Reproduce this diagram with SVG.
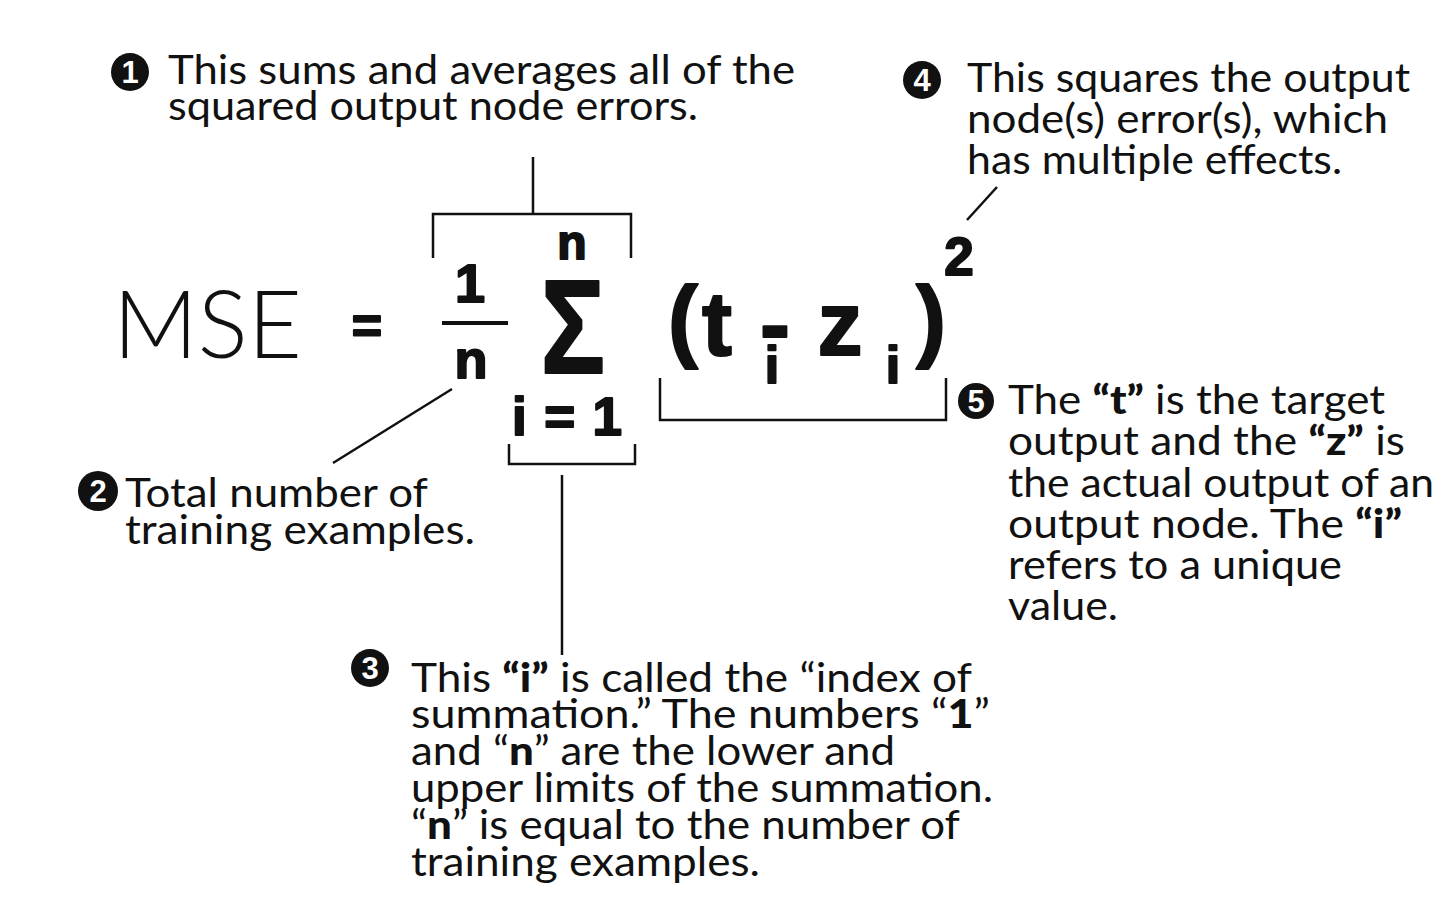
<svg xmlns="http://www.w3.org/2000/svg" width="1440" height="910" viewBox="0 0 1440 910">
<style>
.bg{fill:#ffffff}
.t{font-family:Lato,"Noto Sans",sans-serif;font-size:40px;font-weight:400;fill:#111}
.b{font-weight:900}
.f{font-family:"Liberation Sans",Arial,sans-serif;font-weight:700;fill:#111;stroke:#111;stroke-width:2;stroke-linejoin:round}
.mse{font-family:Lato,"Noto Sans",sans-serif;font-size:94px;font-weight:300;fill:#111}
.num{font-family:"Liberation Sans",Arial,sans-serif;font-weight:700;font-size:31px;fill:#fff;text-anchor:middle}
.dot{fill:#111}
.ln{stroke:#111;stroke-width:2.5;fill:none}
</style>
<rect class="bg" x="0" y="0" width="1440" height="910"/>

<g id="formula">
<text class="mse" x="113" y="358" textLength="189" lengthAdjust="spacingAndGlyphs">MSE</text>
<text class="f" x="367" y="343" font-size="52" text-anchor="middle" font-weight="400" stroke-width="0">=</text>
<text class="f" x="470" y="302" font-size="54" text-anchor="middle">1</text>
<rect x="442" y="321" width="66" height="4" fill="#111"/>
<text class="f" x="471" y="378" font-size="54" text-anchor="middle">n</text>
<text class="f" x="572" y="259" font-size="48" text-anchor="middle">n</text>
<text class="f" transform="translate(573,373) scale(0.8,1)" font-size="134" text-anchor="middle" stroke-width="3">Σ</text>
<text class="f" x="512" y="435" font-size="53" textLength="110">i = 1</text>
<text class="f" x="683" y="350" font-size="90" text-anchor="middle" stroke-width="3">(</text>
<text class="f" x="717" y="355" font-size="90" text-anchor="middle" stroke-width="3">t</text>
<text class="f" x="772" y="383" font-size="52" text-anchor="middle">i</text>
<text class="f" x="775" y="355" font-size="90" text-anchor="middle">-</text>
<text class="f" x="840" y="355" font-size="90" text-anchor="middle" stroke-width="3">z</text>
<text class="f" x="893" y="383" font-size="52" text-anchor="middle">i</text>
<text class="f" x="931" y="350" font-size="90" text-anchor="middle" stroke-width="3">)</text>
<text class="f" x="959" y="275" font-size="53" text-anchor="middle">2</text>
</g>

<g id="connectors">
<path class="ln" d="M533 157 V214 M433 258 V214 H631 V258"/>
<path class="ln" d="M509 444 V464 H635 V444 M562 475 V655"/>
<path class="ln" d="M333 463 L452 389"/>
<path class="ln" d="M660 378 V420 H946 V378"/>
<path class="ln" d="M967 220 L997 187"/>
</g>

<g id="note1">
<circle class="dot" cx="130" cy="72" r="19"/>
<text class="num" x="130" y="83">1</text>
<text class="t" x="168" y="84" textLength="627" lengthAdjust="spacingAndGlyphs">This sums and averages all of the</text>
<text class="t" x="168" y="120" textLength="530" lengthAdjust="spacingAndGlyphs">squared output node errors.</text>
</g>

<g id="note2">
<circle class="dot" cx="98" cy="491" r="20"/>
<text class="num" x="98" y="502">2</text>
<text class="t" x="125" y="507" textLength="303" lengthAdjust="spacingAndGlyphs">Total number of</text>
<text class="t" x="125" y="544" textLength="350" lengthAdjust="spacingAndGlyphs">training examples.</text>
</g>

<g id="note3">
<circle class="dot" cx="370" cy="668" r="19"/>
<text class="num" x="370" y="679">3</text>
<text class="t" x="411" y="692" textLength="561" lengthAdjust="spacingAndGlyphs">This <tspan class="b">“i”</tspan> is called the “index of</text>
<text class="t" x="411" y="728" textLength="579" lengthAdjust="spacingAndGlyphs">summation.”  The numbers “<tspan class="b">1</tspan>”</text>
<text class="t" x="411" y="765" textLength="484" lengthAdjust="spacingAndGlyphs">and “<tspan class="b">n</tspan>” are the lower and</text>
<text class="t" x="411" y="802" textLength="582" lengthAdjust="spacingAndGlyphs">upper limits of the summation.</text>
<text class="t" x="411" y="839" textLength="549" lengthAdjust="spacingAndGlyphs">“<tspan class="b">n</tspan>” is equal to the number of</text>
<text class="t" x="411" y="876" textLength="349" lengthAdjust="spacingAndGlyphs">training examples.</text>
</g>

<g id="note4">
<circle class="dot" cx="922" cy="80" r="19"/>
<text class="num" x="922" y="91">4</text>
<text class="t" x="967" y="92" textLength="443" lengthAdjust="spacingAndGlyphs">This squares the output</text>
<text class="t" x="967" y="133" textLength="421" lengthAdjust="spacingAndGlyphs">node(s) error(s), which</text>
<text class="t" x="967" y="174" textLength="375" lengthAdjust="spacingAndGlyphs">has multiple effects.</text>
</g>

<g id="note5">
<circle class="dot" cx="976" cy="401" r="18"/>
<text class="num" x="976" y="412">5</text>
<text class="t" x="1008" y="414" textLength="377" lengthAdjust="spacingAndGlyphs">The <tspan class="b">“t”</tspan> is the target</text>
<text class="t" x="1008" y="455" textLength="397" lengthAdjust="spacingAndGlyphs">output and the <tspan class="b">“z”</tspan> is</text>
<text class="t" x="1008" y="497" textLength="426" lengthAdjust="spacingAndGlyphs">the actual output of an</text>
<text class="t" x="1008" y="538" textLength="394" lengthAdjust="spacingAndGlyphs">output node. The <tspan class="b">“i”</tspan></text>
<text class="t" x="1008" y="579" textLength="334" lengthAdjust="spacingAndGlyphs">refers to a unique</text>
<text class="t" x="1008" y="620" textLength="110" lengthAdjust="spacingAndGlyphs">value.</text>
</g>
</svg>
